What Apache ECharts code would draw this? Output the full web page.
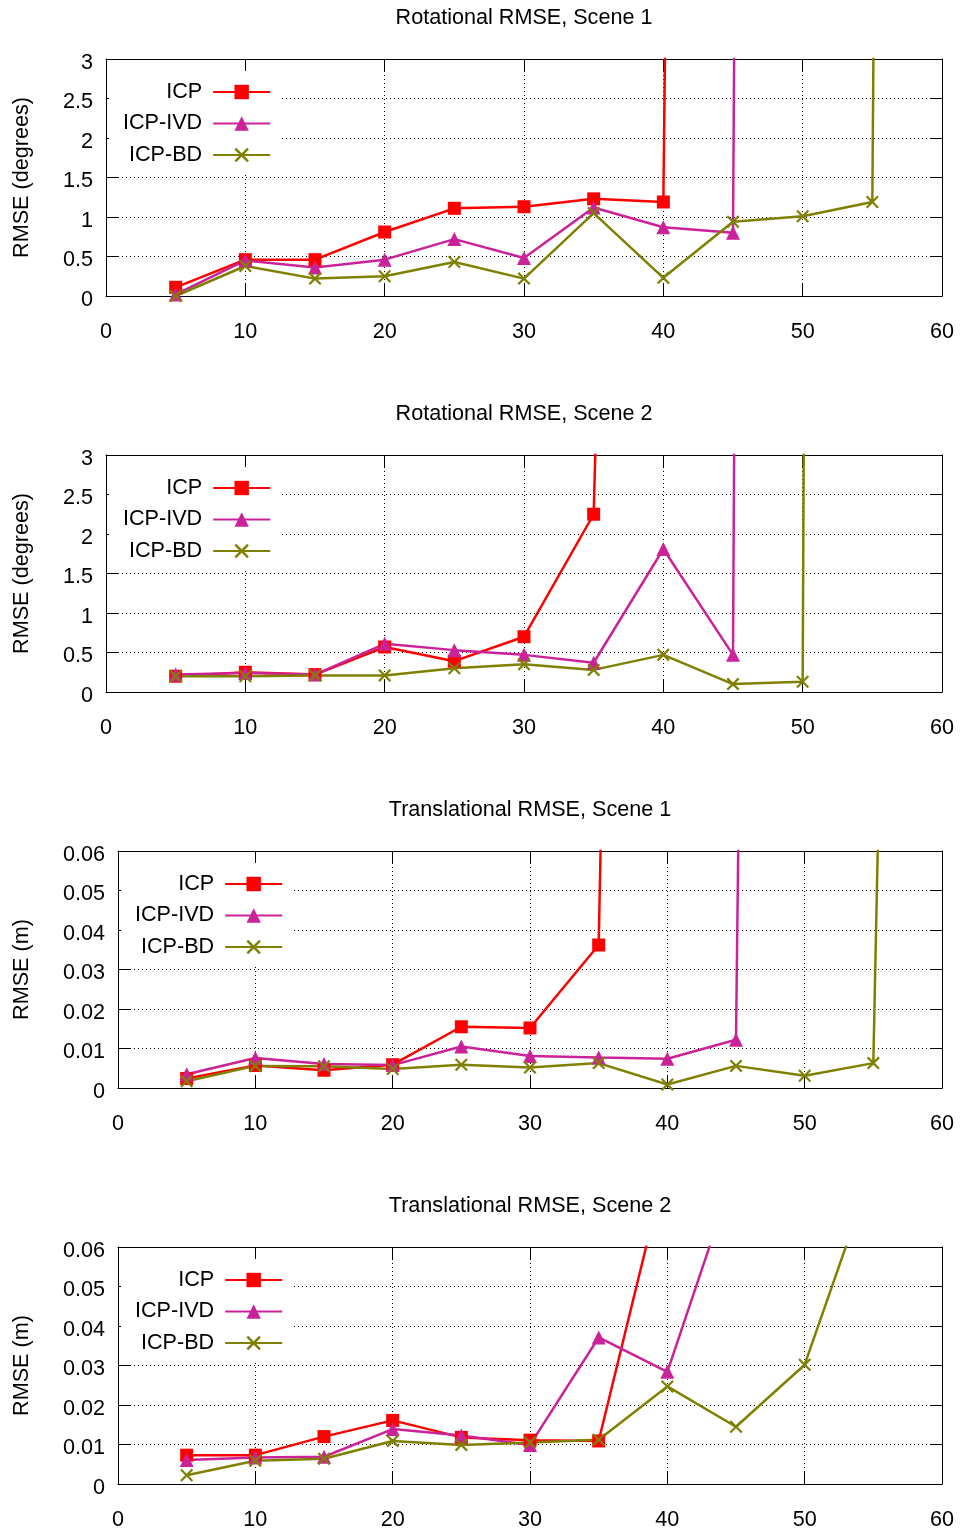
<!DOCTYPE html>
<html>
<head>
<meta charset="utf-8">
<script src="https://cdn.jsdelivr.net/npm/echarts@6/dist/echarts.min.js"></script>
<style>
html,body{margin:0;padding:0;background:#fff;}
#chart{width:962px;height:1533px;}
</style>
</head>
<body>
<div id="chart"></div>
<script>
// x positions (shared)
const xValues = [5, 10, 15, 20, 25, 30, 35, 40, 45, 50, 55, 60];
const seriesNames = ['ICP', 'ICP-IVD', 'ICP-BD'];

// Rotational RMSE, Scene 1 (degrees)
const rot1ICP = [0.11, 0.46, 0.46, 0.81, 1.11, 1.13, 1.23, 1.19, 80];
const rot1IVD = [0.02, 0.45, 0.36, 0.46, 0.72, 0.48, 1.12, 0.87, 0.80, 140];
const rot1BD  = [0.0, 0.38, 0.22, 0.25, 0.43, 0.22, 1.05, 0.23, 0.94, 1.01, 1.19, 120];

// Rotational RMSE, Scene 2 (degrees)
const rot2ICP = [0.20, 0.25, 0.22, 0.57, 0.39, 0.70, 2.25, 35];
const rot2IVD = [0.22, 0.24, 0.22, 0.61, 0.53, 0.47, 0.37, 1.81, 0.47, 160];
const rot2BD  = [0.20, 0.20, 0.21, 0.21, 0.30, 0.35, 0.28, 0.47, 0.10, 0.13, 190];

// Translational RMSE, Scene 1 (m)
const tr1ICP = [0.0024, 0.0057, 0.0045, 0.0059, 0.0155, 0.0152, 0.0362, 0.9];
const tr1IVD = [0.0035, 0.0076, 0.0061, 0.0058, 0.0105, 0.0081, 0.0077, 0.0074, 0.0122, 1.5];
const tr1BD  = [0.0017, 0.0056, 0.0055, 0.0048, 0.0059, 0.0052, 0.0063, 0.0009, 0.0056, 0.0031, 0.0063, 0.85];

// Translational RMSE, Scene 2 (m)
const tr2ICP = [0.0073, 0.0073, 0.0120, 0.0161, 0.0118, 0.0111, 0.0109, 0.082];
const tr2IVD = [0.0061, 0.0067, 0.0069, 0.0139, 0.0123, 0.0099, 0.0371, 0.0284, 0.080];
const tr2BD  = [0.0022, 0.0059, 0.0064, 0.0109, 0.0099, 0.0105, 0.0112, 0.0247, 0.0145, 0.0302, 0.080];

// tick settings
const xTicks = {min: 0, max: 60, interval: 10};
const rotTicks = {min: 0, max: 3, interval: 0.5};
const trTicks = {min: 0, max: 0.06, interval: 0.01};

const panels = [
  {title: 'Rotational RMSE, Scene 1', yName: 'RMSE (degrees)', y: rotTicks, data: [rot1ICP, rot1IVD, rot1BD], left: 106, dec: 1},
  {title: 'Rotational RMSE, Scene 2', yName: 'RMSE (degrees)', y: rotTicks, data: [rot2ICP, rot2IVD, rot2BD], left: 106, dec: 1},
  {title: 'Translational RMSE, Scene 1', yName: 'RMSE (m)', y: trTicks, data: [tr1ICP, tr1IVD, tr1BD], left: 118, dec: 2},
  {title: 'Translational RMSE, Scene 2', yName: 'RMSE (m)', y: trTicks, data: [tr2ICP, tr2IVD, tr2BD], left: 118, dec: 2}
];

const colors = ['#ff0000', '#cc2299', '#808000'];
const xPath = 'path://M0,12 L12,0 L50,38 L88,0 L100,12 L62,50 L100,88 L88,100 L50,62 L12,100 L0,88 L38,50 Z';
const symbols = ['rect', 'triangle', xPath];
const symbolSizes = [13, 14, 13];

const FONT = 'Liberation Sans, Arial, Helvetica, sans-serif';
const FS = 21.6;
const PANEL_H = 396, PLOT_TOP = 59, PLOT_H = 237, RIGHT = 20;

const option = {
  animation: false,
  backgroundColor: '#fff',
  textStyle: {fontFamily: FONT},
  title: [], grid: [], xAxis: [], yAxis: [], legend: [], series: []
};

function fmt(dec) {
  return function (v) {
    if (v === 0) return '0';
    return dec === 2 ? v.toFixed(2) : String(Math.round(v * 10) / 10);
  };
}

panels.forEach((p, i) => {
  const top = PLOT_TOP + PANEL_H * i;
  const centerX = p.left + (962 - RIGHT - p.left) / 2;
  option.title.push({
    text: p.title,
    left: centerX - 5,
    top: top - 57,
    textAlign: 'center',
    textVerticalAlign: 'top',
    textStyle: {fontFamily: FONT, fontSize: FS, fontWeight: 'normal', color: '#000'}
  });
  option.grid.push({
    left: p.left, right: RIGHT, top: top, height: PLOT_H,
    show: false, outerBoundsMode: 'none', containLabel: false
  });
  const tickStyle = {show: true, inside: true, length: 12, lineStyle: {color: '#000', width: 1}};
  const lineStyle = {show: true, onZero: false, lineStyle: {color: '#000', width: 1}};
  // bottom x
  option.xAxis.push({
    type: 'value', gridIndex: i, position: 'bottom',
    min: xTicks.min, max: xTicks.max, interval: xTicks.interval,
    axisLine: lineStyle, axisTick: tickStyle,
    axisLabel: {show: true, margin: 25, fontSize: FS, color: '#000', fontFamily: FONT},
    splitLine: {show: true, lineStyle: {color: '#000', width: 1, type: [1, 3]}}
  });
  // top mirror
  option.xAxis.push({
    type: 'value', gridIndex: i, position: 'top',
    min: xTicks.min, max: xTicks.max, interval: xTicks.interval,
    axisLine: lineStyle, axisTick: tickStyle,
    axisLabel: {show: false}, splitLine: {show: false}
  });
  // left y
  option.yAxis.push({
    type: 'value', gridIndex: i, position: 'left',
    min: p.y.min, max: p.y.max, interval: p.y.interval,
    name: p.yName, nameLocation: 'middle', nameRotate: 90,
    nameGap: p.left - 22 - 11,
    nameTextStyle: {fontSize: FS, color: '#000', fontFamily: FONT},
    axisLine: lineStyle, axisTick: tickStyle,
    axisLabel: {show: true, margin: 13, fontSize: FS, color: '#000', fontFamily: FONT,
      verticalAlign: 'top', lineHeight: 8, formatter: fmt(p.dec)},
    splitLine: {show: true, lineStyle: {color: '#000', width: 1, type: [1, 3]}}
  });
  // right mirror
  option.yAxis.push({
    type: 'value', gridIndex: i, position: 'right',
    min: p.y.min, max: p.y.max, interval: p.y.interval,
    axisLine: lineStyle, axisTick: tickStyle,
    axisLabel: {show: false}, splitLine: {show: false}
  });
  option.legend.push({
    orient: 'vertical', align: 'right',
    left: (p.left === 106 ? 123 : 135) - 14, top: top + 12,
    padding: [10, 10, 6, 14],
    itemWidth: 57, itemHeight: 18, itemGap: 9.5,
    backgroundColor: '#fff',
    data: seriesNames,
    textStyle: {fontSize: FS, color: '#000', fontFamily: FONT, padding: [0, 6, 0, 0]},
    selectedMode: false
  });
  p.data.forEach((vals, k) => {
    option.series.push({
      name: seriesNames[k], type: 'line',
      xAxisIndex: 2 * i, yAxisIndex: 2 * i,
      data: vals.map((v, j) => [xValues[j], v]),
      symbol: symbols[k], symbolSize: symbolSizes[k],
      clip: true,
      lineStyle: {color: colors[k], width: 2.5},
      itemStyle: {color: colors[k]},
      emphasis: {disabled: true}
    });
  });
});

const chart = echarts.init(document.getElementById('chart'), null, {renderer: 'canvas'});
chart.setOption(option);
</script>
</body>
</html>
